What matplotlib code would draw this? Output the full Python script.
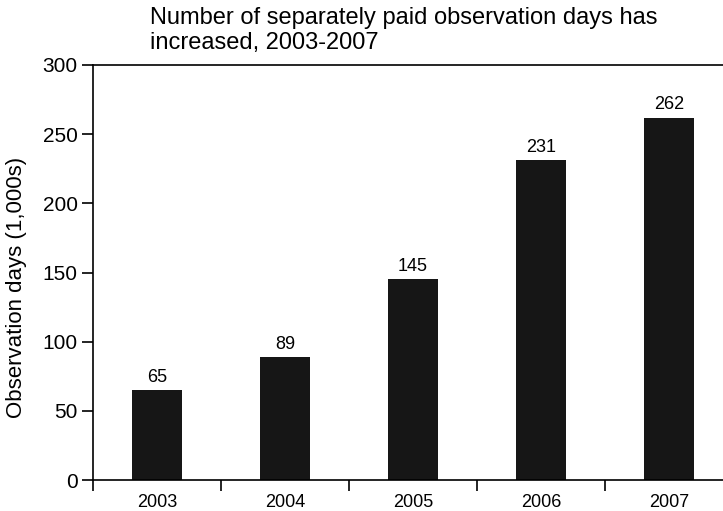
import matplotlib.pyplot as plt
import numpy as np

plt.rcParams['font.family'] = ['Liberation Sans', 'DejaVu Sans']

years = ['2003', '2004', '2005', '2006', '2007']
obs_days = [65, 89, 145, 231, 262]  # thousands
y_ticks = [0, 50, 100, 150, 200, 250, 300]

fig = plt.figure(figsize=(7.23, 5.11), dpi=100)
ax = fig.add_axes([93 / 723, 31 / 511, 640 / 723, 415 / 511])

x = np.arange(len(years))
bars = ax.bar(x, obs_days, width=0.39, color='#161616', zorder=2)
for xi, v in zip(x, obs_days):
    ax.text(xi, v + 3, str(v), ha='center', va='bottom', fontsize=13)

ax.set_xlim(-0.5, len(years) - 0.5)
ax.set_ylim(0, 300)
ax.set_yticks(y_ticks)
ax.tick_params(axis='y', direction='out', length=8, width=1.2, pad=3, labelsize=15)

# labels in the middle of each slot, tick marks on the slot edges
ax.set_xticks(x)
ax.set_xticklabels(years)
ax.set_xticks(np.arange(len(years) + 1) - 0.5, minor=True)
ax.tick_params(axis='x', which='major', length=0, pad=10, labelsize=13)
ax.tick_params(axis='x', which='minor', direction='out', length=8, width=1.2)

for side in ['left', 'bottom', 'top', 'right']:
    ax.spines[side].set_linewidth(1.2)

fig.text(17 / 723, 1 - 287 / 511, 'Observation days (1,000s)', rotation=90,
         ha='center', va='center', fontsize=16)
fig.text(150 / 723, 1 - 7 / 511,
         'Number of separately paid observation days has\nincreased, 2003-2007',
         ha='left', va='top', fontsize=17, linespacing=1.2)

fig.savefig('out.png', dpi=100)
